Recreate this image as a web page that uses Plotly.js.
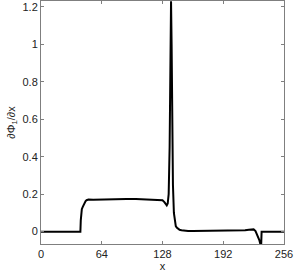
<!DOCTYPE html>
<html>
<head>
<meta charset="utf-8">
<script src="https://cdn.plot.ly/plotly-3.0.1.min.js"></script>
<style>html,body{margin:0;padding:0;background:#fff;}#chart{width:308px;height:277px;}</style>
</head>
<body>
<div id="chart"></div>
<script>
var xPos = [0, 41.5, 41.9, 42.3, 43, 44, 45, 46, 47, 48, 50, 55, 60, 70, 80, 90, 100, 110, 120, 125, 128, 130, 131.5, 132.5, 133.5, 134.5, 135.5, 136.2, 137, 137.6, 138.2, 139, 140, 141, 142, 143, 144, 146, 148, 150, 155, 160, 180, 200, 210, 215, 219, 222, 224, 226, 228, 230, 231, 232, 232.4, 256];
var dPhiDx = [0, 0, 0.06, 0.11, 0.12, 0.132, 0.145, 0.155, 0.163, 0.168, 0.171, 0.170, 0.171, 0.173, 0.174, 0.175, 0.174, 0.173, 0.172, 0.171, 0.168, 0.158, 0.145, 0.14, 0.15, 0.2, 0.45, 0.85, 1.23, 1.0, 0.6, 0.25, 0.1, 0.05, 0.03, 0.022, 0.016, 0.01, 0.007, 0.005, 0.004, 0.003, 0.003, 0.004, 0.005, 0.007, 0.01, 0.013, 0.012, 0.003, -0.02, -0.045, -0.065, -0.065, 0, 0];
var xTicks = [0, 64, 128, 192, 256];
var yTicks = [0, 0.2, 0.4, 0.6, 0.8, 1, 1.2];
var yTickText = ['0', '0.2', '0.4', '0.6', '0.8', '1', '1.2'];

var axisCommon = {
  showline: true, linecolor: '#7f7f7f', linewidth: 1, mirror: 'ticks',
  ticks: 'inside', ticklen: 3, tickcolor: '#7f7f7f', tickwidth: 1,
  showgrid: false, zeroline: false,
  tickfont: {family: 'Liberation Sans, Arial, sans-serif', size: 11, color: '#222'}
};

var trace = {
  x: xPos, y: dPhiDx, type: 'scatter', mode: 'lines',
  line: {color: '#000', width: 2}, hoverinfo: 'skip'
};

var layout = {
  width: 308, height: 277,
  margin: {l: 41, r: 24, t: 1, b: 33},
  paper_bgcolor: '#fff', plot_bgcolor: '#fff',
  showlegend: false,
  xaxis: Object.assign({}, axisCommon, {
    range: [0, 256], tickvals: xTicks, ticktext: xTicks.map(String),
    title: {text: 'x', font: {family: 'Liberation Sans, Arial, sans-serif', size: 11, color: '#222'}, standoff: 2}
  }),
  yaxis: Object.assign({}, axisCommon, {
    range: [-0.066, 1.232], tickvals: yTicks, ticktext: yTickText,
    title: {text: '∂Φ<sub>1</sub>/∂x', font: {family: 'Liberation Sans, Arial, sans-serif', size: 11, color: '#222'}, standoff: 4}
  })
};

Plotly.newPlot('chart', [trace], layout, {staticPlot: true, displayModeBar: false});
</script>
</body>
</html>
